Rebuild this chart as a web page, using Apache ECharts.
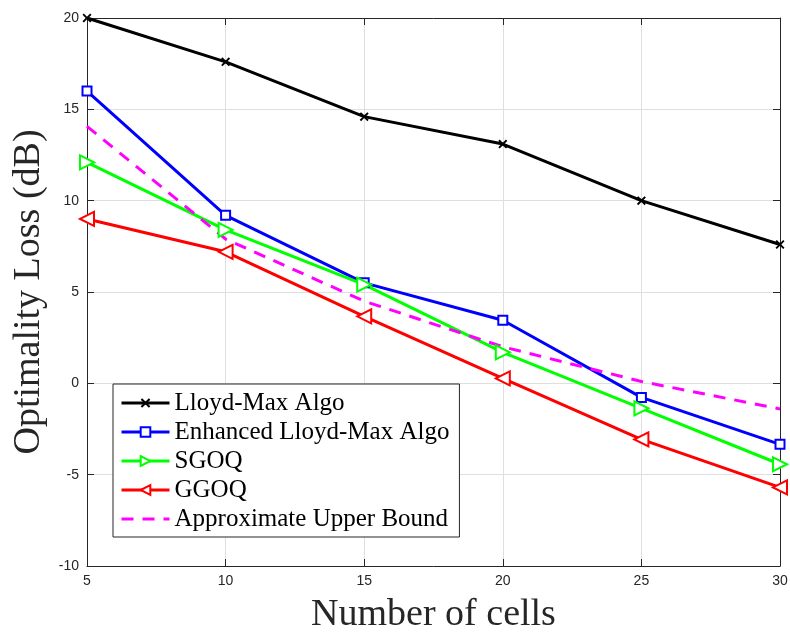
<!DOCTYPE html>
<html>
<head>
<meta charset="utf-8">
<script src="https://cdn.jsdelivr.net/npm/echarts@6/dist/echarts.min.js"></script>
<style>html,body{margin:0;padding:0;background:#fff}#c{width:790px;height:632px}</style>
</head>
<body>
<div id="c"></div>
<script>
const cells = [5, 10, 15, 20, 25, 30];
const lloydMax = [20.0, 17.6, 14.6, 13.1, 10.0, 7.6];
const enhancedLloydMax = [16.0, 9.2, 5.5, 3.45, -0.77, -3.34];
const sgoq = [12.1, 8.4, 5.4, 1.7, -1.37, -4.43];
const ggoq = [9.0, 7.2, 3.67, 0.27, -3.07, -5.7];
const upperBound = [14.07, 7.9, 4.5, 2.0, 0.1, -1.4];
const xTicks = [5, 10, 15, 20, 25, 30];
const yTicks = [-10, -5, 0, 5, 10, 15, 20];

const pairs = ys => cells.map((x, i) => [x, ys[i]]);
const crossPath = 'path://M0,1.5L1.5,0L5,3.5L8.5,0L10,1.5L6.5,5L10,8.5L8.5,10L5,6.5L1.5,10L0,8.5L3.5,5Z';
const axisColor = '#262626';
const serif = '"Liberation Serif", "Times New Roman", serif';
const sans = '"Liberation Sans", Helvetica, Arial, sans-serif';

const chart = echarts.init(document.getElementById('c'), null, {renderer: 'canvas'});
const baseAxis = {
  axisLine: {show: true, onZero: false, lineStyle: {color: axisColor, width: 1}},
  axisTick: {show: true, inside: true, length: 7, lineStyle: {color: axisColor}},
  splitLine: {show: false}
};
chart.setOption({
  animation: false,
  backgroundColor: '#fff',
  grid: {left: 87, right: 10, top: 18, bottom: 66, containLabel: false, outerBoundsMode: 'none'},
  legend: {
    orient: 'vertical', left: 113, top: 384,
    backgroundColor: '#fff', borderColor: axisColor, borderWidth: 1,
    padding: [6, 10, 5, 7], itemGap: 3, itemWidth: 48, itemHeight: 12,
    lineStyle: {width: 3},
    textStyle: {fontFamily: serif, fontSize: 25, color: '#000', lineHeight: 26},
    data: ['Lloyd-Max Algo', 'Enhanced Lloyd-Max Algo', 'SGOQ', 'GGOQ',
      {name: 'Approximate Upper Bound', itemStyle: {opacity: 0}}]
  },
  xAxis: [
    Object.assign({}, baseAxis, {
      type: 'value', min: 5, max: 30, interval: 5, position: 'bottom',
      name: 'Number of cells', nameLocation: 'middle', nameGap: 30,
      nameTextStyle: {fontFamily: serif, fontSize: 38, color: '#262626'},
      axisLabel: {fontFamily: sans, fontSize: 14, color: axisColor, margin: 8},
      splitLine: {show: true, lineStyle: {color: '#dfdfdf', width: 1}}
    }),
    Object.assign({}, baseAxis, {
      type: 'value', min: 5, max: 30, interval: 5, position: 'top',
      axisLabel: {show: false}
    })
  ],
  yAxis: [
    Object.assign({}, baseAxis, {
      type: 'value', min: -10, max: 20, interval: 5, position: 'left',
      name: 'Optimality Loss (dB)', nameLocation: 'middle', nameGap: 38,
      nameTextStyle: {fontFamily: serif, fontSize: 38, color: '#262626'},
      axisLabel: {fontFamily: sans, fontSize: 14, color: axisColor, margin: 8},
      splitLine: {show: true, lineStyle: {color: '#dfdfdf', width: 1}}
    }),
    Object.assign({}, baseAxis, {
      type: 'value', min: -10, max: 20, interval: 5, position: 'right',
      axisLabel: {show: false}
    })
  ],
  series: [
    {name: 'Lloyd-Max Algo', type: 'line', data: pairs(lloydMax),
      symbol: crossPath, symbolSize: 9,
      lineStyle: {color: '#000', width: 3}, itemStyle: {color: '#000'}},
    {name: 'Enhanced Lloyd-Max Algo', type: 'line', data: pairs(enhancedLloydMax),
      symbol: 'emptyRect', symbolSize: 9,
      lineStyle: {color: '#0000ff', width: 3}, itemStyle: {color: '#0000ff', borderWidth: 3}},
    {name: 'SGOQ', type: 'line', data: pairs(sgoq),
      symbol: 'emptyTriangle', symbolSize: 14, symbolRotate: -90,
      lineStyle: {color: '#00ff00', width: 3}, itemStyle: {color: '#00ff00', borderWidth: 3}},
    {name: 'GGOQ', type: 'line', data: pairs(ggoq),
      symbol: 'emptyTriangle', symbolSize: 14, symbolRotate: 90,
      lineStyle: {color: '#ff0000', width: 3}, itemStyle: {color: '#ff0000', borderWidth: 3}},
    {name: 'Approximate Upper Bound', type: 'line', data: pairs(upperBound),
      symbol: 'none', showSymbol: false,
      lineStyle: {color: '#ff00ff', width: 3, type: [12, 9]}, itemStyle: {color: '#ff00ff'}}
  ]
});
</script>
</body>
</html>
